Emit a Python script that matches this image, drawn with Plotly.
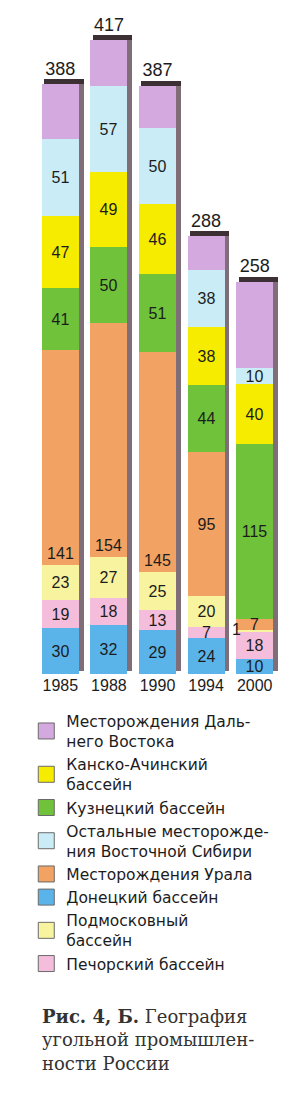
import numpy as np
import plotly.graph_objects as go

years = ['1985', '1988', '1990', '1994', '2000']
totals = [388, 417, 387, 288, 258]

# stacked from bottom to top
donetsk = [30, 32, 29, 24, 10]
pechora = [19, 18, 13, 7, 18]
podmosk = [23, 27, 25, 20, 1]
ural = [141, 154, 145, 95, 7]
kuzn = [41, 50, 51, 44, 115]
kansk = [47, 49, 46, 38, 40]
vsib = [51, 57, 50, 38, 10]
fareast = [36, 30, 28, 22, 57]

# label placement style inside the Ural segment, per year
ural_anchor = ['start', 'start', 'start', 'middle', 'middle']

FONT = 'Liberation Sans, Arial, sans-serif'
LBL = dict(family=FONT, size=16, color='#1c1c1c')

series = [
    # name, values, colour, legend rank, show labels
    ('Донецкий бассейн', donetsk, '#5ab4ea', 6, True),
    ('Печорский бассейн', pechora, '#f4bddb', 8, True),
    ('Подмосковный<br>бассейн', podmosk, '#f7f39e', 7, True),
    ('Месторождения Урала', ural, '#f2a262', 5, True),
    ('Кузнецкий бассейн', kuzn, '#6fc23a', 3, True),
    ('Канско-Ачинский<br>бассейн', kansk, '#f6ec00', 2, True),
    ('Остальные месторожде-<br>ния Восточной Сибири', vsib, '#c9ecf6', 4, True),
    ('Месторождения Даль-<br>него Востока', fareast, '#d3a9df', 1, False),
]

xi = np.arange(len(years))
W = 0.76
OFF = -0.38
SH = 0.1
CAP = 3.3

fig = go.Figure()

# 3D side face and top cap
fig.add_trace(go.Bar(x=xi, y=totals, base=[2] * len(totals), width=W, offset=OFF + SH,
                     marker=dict(color='#7f6e78', line=dict(width=0)),
                     showlegend=False, hoverinfo='skip'))
fig.add_trace(go.Bar(x=xi, y=[CAP] * len(totals), base=totals, width=W + 0.05, offset=OFF + 0.05,
                     marker=dict(color='#3d3035', line=dict(width=0)),
                     showlegend=False, hoverinfo='skip'))

base = np.zeros(len(years))
annots = []
for name, vals, color, rank, show in series:
    vals = np.array(vals, dtype=float)
    if name == 'Месторождения Урала':
        anchors = ural_anchor
    else:
        anchors = ['middle'] * len(vals)
    for anc in sorted(set(anchors)):
        idx = [i for i in range(len(vals)) if anchors[i] == anc]
        txt = [str(int(vals[i])) if (show and vals[i] >= 9) else '' for i in idx]
        fig.add_trace(go.Bar(
            x=xi[idx], y=vals[idx], base=base[idx], width=W, offset=OFF,
            name=name, showlegend=False,
            marker=dict(color=color, line=dict(width=0)),
            text=txt, texttemplate='%{text}', textposition='inside',
            insidetextanchor=anc, constraintext='none', textangle=0,
            textfont=LBL, hoverinfo='skip'))
    # legend entry with a larger outlined swatch
    fig.add_trace(go.Scatter(
        x=[None], y=[None], mode='markers', name=name, legendrank=rank,
        marker=dict(symbol='square', size=16, color=color, line=dict(color='#6a6a6a', width=1)),
        hoverinfo='skip'))
    if show:
        for i, v in enumerate(vals):
            if v <= 2:
                annots.append(dict(x=xi[i] + OFF, y=base[i] + v, xref='x', yref='y',
                                   text=str(int(v)), showarrow=False, xanchor='center',
                                   yanchor='middle', font=LBL))
            elif v < 9:
                annots.append(dict(x=xi[i], y=base[i] + v / 2, xref='x', yref='y',
                                   text=str(int(v)), showarrow=False, xanchor='center',
                                   yanchor='middle', font=LBL))
    base = base + vals

# totals above bars
fig.add_trace(go.Scatter(x=xi, y=np.array(totals) + CAP, mode='text', text=[str(t) for t in totals],
                         textposition='top center', showlegend=False, hoverinfo='skip',
                         textfont=dict(family=FONT, size=18, color='#1c1c1c')))

annots.append(dict(
    xref='paper', yref='paper', x=0.016, y=-0.49, xanchor='left', yanchor='top', align='left',
    showarrow=False,
    text='<b>Рис. 4, Б.</b> География<br>угольной промышлен-<br>ности России',
    font=dict(family='DejaVu Serif, Liberation Serif, serif', size=18, color='#333333')))

fig.update_layout(
    width=303, height=1103, autosize=False,
    margin=dict(l=36, r=24, t=0, b=429),
    barmode='overlay', bargap=0,
    paper_bgcolor='white', plot_bgcolor='white',
    xaxis=dict(range=[-0.5, 4.5], tickvals=xi, ticktext=years, showgrid=False, zeroline=False,
               showline=False, ticks='', fixedrange=True,
               tickfont=dict(family=FONT, size=16, color='#1c1c1c')),
    yaxis=dict(range=[0, 443.4], visible=False, fixedrange=True),
    legend=dict(x=-0.04, y=-0.045, xanchor='left', yanchor='top', orientation='v',
                traceorder='normal', bgcolor='rgba(0,0,0,0)', itemsizing='trace',
                font=dict(family='DejaVu Sans, sans-serif', size=15.5, color='#1c1c1c')),
    annotations=annots,
    showlegend=True,
)

fig.write_html('out.html')
